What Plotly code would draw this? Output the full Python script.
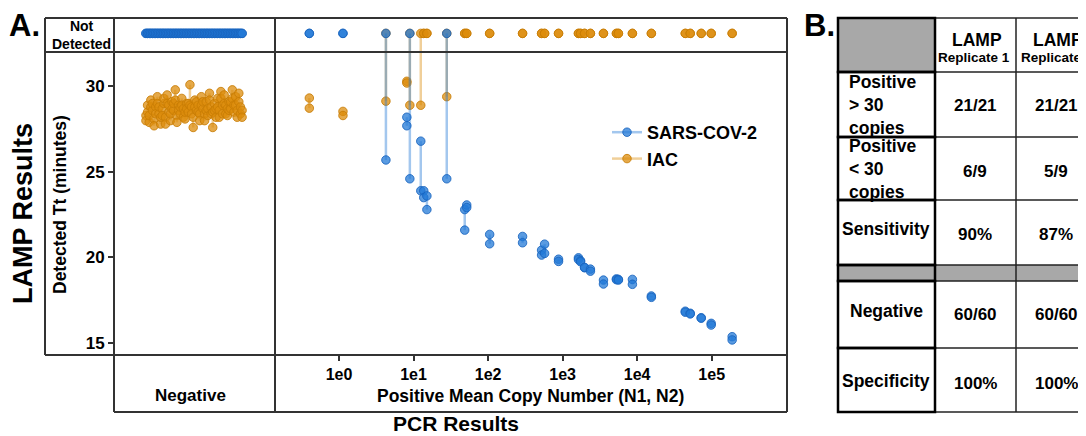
import plotly.graph_objects as go

W, H = 1086, 436
OFF = 8  # page body margin in the browser
ND_Y = 33.1  # where "Not Detected" replicates sit

# ---- negative samples: IAC Tt per replicate (SARS-CoV-2 never detected)
neg_sample = list(range(1, 61))
neg_iac_rep1 = [28.3, 28.9, 27.9, 29.2, 28.6, 28.1, 28.8, 29.4, 28.4, 27.8,
                28.7, 29.0, 28.2, 29.5, 28.5, 28.0, 29.1, 28.6, 29.8, 28.3,
                28.9, 28.4, 29.3, 28.7, 28.1, 29.0, 28.5, 30.1, 28.8, 28.2,
                29.2, 28.6, 28.9, 28.4, 29.4, 28.7, 28.0, 29.1, 28.3, 29.6,
                28.8, 28.5, 29.0, 28.2, 29.3, 28.6, 29.7, 28.4, 29.5, 28.9,
                28.3, 29.1, 28.7, 29.8, 28.5, 29.4, 28.2, 29.6, 28.8, 28.6]
neg_iac_rep2 = [28.0, 28.5, 28.3, 28.8, 29.0, 27.7, 28.4, 29.0, 28.8, 28.2,
                28.3, 29.3, 27.8, 29.0, 28.9, 28.4, 28.7, 29.0, 29.2, 27.9,
                28.6, 28.8, 28.9, 28.2, 28.5, 28.7, 29.0, 28.9, 28.4, 27.6,
                28.8, 29.1, 28.5, 28.0, 28.9, 29.1, 28.4, 28.6, 28.7, 29.2,
                28.4, 27.6, 28.6, 28.7, 28.8, 28.2, 29.3, 28.9, 29.0, 28.4,
                28.7, 28.6, 29.1, 29.3, 28.9, 28.9, 28.6, 29.1, 28.4, 28.2]

# ---- positive samples: mean copy number (N1, N2), None = not detected
pos_copies = [0.40, 1.13, 4.26, 8.13, 8.92, 12.5, 13.7, 15.1, 27.9, 48.6,
              51.7, 105, 290, 522, 573, 881, 1630, 1740, 1970, 2360,
              3530, 5270, 5600, 8630, 15500, 44200, 51500, 72300, 98400, 188000]
sars_rep1 = [None, None, 25.7, 28.2, 24.6, 26.8, 23.9, 23.6, 24.6, 22.8,
             23.07, 21.35, 21.23, 20.43, 20.78, 19.9, 19.98, 19.81, 19.4, 19.32,
             18.68, 18.75, 18.72, 18.72, 17.75, 16.86, 16.74, 16.48, 16.15, 15.37]
sars_rep2 = [None, None, None, 27.7, None, 23.9, 23.5, 22.8, None, 21.6,
             22.92, 20.8, 20.86, 20.14, 20.24, 19.77, 19.88, 19.75, 19.42, 19.2,
             18.45, 18.7, 18.68, 18.43, 17.67, 16.8, 16.7, 16.45, 16.05, 15.18]
iac_rep1 = [29.32, 28.54, 29.14, 30.3, 28.9, 28.9, None, None, 29.4] + [None] * 21
iac_rep2 = [28.73, 28.3, None, 30.2, None, None, None, None, None] + [None] * 21

# ---- table B
tbl_rows = ["Positive<br>> 30<br>copies", "Positive<br>< 30<br>copies", "Sensitivity",
            "Negative", "Specificity"]
tbl_rep1 = ["21/21", "6/9", "90%", "60/60", "100%"]
tbl_rep2 = ["21/21", "5/9", "87%", "60/60", "100%"]

BLUE_M = "rgba(35,122,215,0.75)"
BLUE_O = "rgba(25,100,190,0.85)"
BLUE_L = "rgba(35,122,215,0.42)"
ORG_M = "rgba(220,140,12,0.75)"
ORG_O = "rgba(200,125,5,0.85)"
ORG_L = "rgba(220,140,12,0.42)"
FONT = "Liberation Sans, Arial, sans-serif"

FW, FH = W - OFF, H - OFF


def pairs(xs, r1, r2):
    X, Y = [], []
    for x, a, b in zip(xs, r1, r2):
        X += [x, x, None]
        Y += [ND_Y if a is None else a, ND_Y if b is None else b, None]
    return X, Y


def px(x):
    return (x - OFF) / FW


def py(y):
    return 1 - (y - OFF) / FH


fig = go.Figure()

def add_pairs(xs, r1, r2, xa, ya, mc, oc, lc, name, show, rank):
    X, Y = pairs(xs, r1, r2)
    fig.add_trace(go.Scatter(
        x=X, y=Y, xaxis=xa, yaxis=ya, mode="lines+markers", name="<b>" + name + "</b>",
        legendgroup=name, showlegend=show, legendrank=rank,
        line=dict(color=lc, width=2.5),
        marker=dict(size=8.5, color=mc, line=dict(color=oc, width=1)),
        hoverinfo="skip"))

add_pairs(neg_sample, neg_iac_rep1, neg_iac_rep2, "x", "y", ORG_M, ORG_O, ORG_L, "IAC", False, 2)
add_pairs(pos_copies, iac_rep1, iac_rep2, "x2", "y2", ORG_M, ORG_O, ORG_L, "IAC", True, 2)
add_pairs(neg_sample, [None] * 60, [None] * 60, "x", "y", BLUE_M, BLUE_O, BLUE_L, "SARS-COV-2", False, 1)
add_pairs(pos_copies, sars_rep1, sars_rep2, "x2", "y2", BLUE_M, BLUE_O, BLUE_L, "SARS-COV-2", True, 1)

ydom = [py(355), py(18)]
yrng = [14.3, 34.0]
fig.update_layout(
    width=FW, height=FH, margin=dict(l=0, r=0, t=0, b=0),
    paper_bgcolor="white", plot_bgcolor="white",
    font=dict(family=FONT, color="black"),
    xaxis=dict(domain=[px(114), px(275)], range=[-18.6, 80.2], anchor="y",
               showticklabels=False, showgrid=False, zeroline=False, ticks=""),
    yaxis=dict(domain=ydom, range=yrng, anchor="x", tickvals=[15, 20, 25, 30],
               ticktext=["<b>15</b>", "<b>20</b>", "<b>25</b>", "<b>30</b>"],
               ticks="outside", ticklen=5, tickwidth=1.5, tickcolor="#333",
               tickfont=dict(size=17), showgrid=False, zeroline=False),
    xaxis2=dict(domain=[px(275), px(787)], type="log", range=[-0.8586, 6.01], anchor="y2",
                tickvals=[1, 10, 100, 1000, 1e4, 1e5],
                ticktext=["<b>1e0</b>", "<b>1e1</b>", "<b>1e2</b>", "<b>1e3</b>", "<b>1e4</b>", "<b>1e5</b>"],
                ticks="outside", ticklen=5, tickwidth=1.5, tickcolor="#333",
                tickfont=dict(size=16), showgrid=False, zeroline=False),
    yaxis2=dict(domain=ydom, range=yrng, anchor="x2", showticklabels=False,
                showgrid=False, zeroline=False, ticks=""),
    legend=dict(x=px(607), y=py(114), xanchor="left", yanchor="top",
                font=dict(size=18), bgcolor="rgba(0,0,0,0)", itemwidth=30,
                tracegroupgap=0),
    showlegend=True,
)

shapes = []

def line(x0, y0, x1, y1, w=2, c="#333"):
    shapes.append(dict(type="line", xref="paper", yref="paper",
                       x0=px(x0), y0=py(y0), x1=px(x1), y1=py(y1),
                       line=dict(color=c, width=w)))

def rect(x0, y0, x1, y1, fill=None, w=0, c="black"):
    shapes.append(dict(type="rect", xref="paper", yref="paper",
                       x0=px(x0), y0=py(y0), x1=px(x1), y1=py(y1),
                       fillcolor=fill or "rgba(0,0,0,0)",
                       line=dict(color=c, width=w), layer="below" if fill else "above"))

# panel A frame
line(45, 18, 787, 18)
line(45, 52, 787, 52)
line(45, 355, 787, 355)
line(114, 412, 787, 412)
line(45, 18, 45, 355)
line(114, 18, 114, 412)
line(275, 18, 275, 412)
line(787, 18, 787, 412)

# table B
cols = [838, 935, 1016, 1097]
rows = [18, 72, 137, 200, 265, 281, 348, 412]
rect(838, 18, 935, 72, fill="#a8a8a8")
rect(838, 265, 1097, 281, fill="#a8a8a8")
for r in rows:
    line(838, r, 1097, r, w=1.5, c="#222")
for c in cols[1:]:
    line(c, 18, c, 412, w=1.5, c="#222")
for i in range(len(rows) - 1):
    rect(838, rows[i], 935, rows[i + 1], w=2.5, c="black")

fig.update_layout(shapes=shapes)

ann = []

def text(x, y, s, size, xanchor="center", angle=0, align="center"):
    ann.append(dict(x=px(x), y=py(y), xref="paper", yref="paper", text=s,
                    showarrow=False, xanchor=xanchor, yanchor="middle",
                    textangle=angle, align=align, font=dict(size=size, family=FONT, color="black")))

text(24, 26, "<b>A.</b>", 31)
text(819, 26, "<b>B.</b>", 31)
text(81, 35, "<b>Not<br>Detected</b>", 14)
text(60, 205, "<b>Detected Tt (minutes)</b>", 17.5, angle=-90)
text(23, 214, "<b>LAMP Results</b>", 27, angle=-90)
text(190, 395, "<b>Negative</b>", 17)
text(530, 396, "<b>Positive Mean Copy Number (N1, N2)</b>", 17.5)
text(456, 423, "<b>PCR Results</b>", 21)

text(977, 40, "<b>LAMP</b>", 17.5)
text(974, 58, "<b>Replicate 1</b>", 13.5)
text(1058, 40, "<b>LAMP</b>", 17.5)
text(1056, 58, "<b>Replicate 2</b>", 13.5)

label_x = [847, 847, 840, 886, 840]
label_anchor = ["left", "left", "left", "center", "left"]
label_y = [105, 169, 229, 311, 381]
val_y = [106, 172, 234, 314, 383]
for i in range(len(tbl_rows)):
    text(label_x[i], label_y[i], "<b>" + tbl_rows[i] + "</b>", 17.5,
         xanchor=label_anchor[i], align="left")
    text(975, val_y[i], "<b>" + tbl_rep1[i] + "</b>", 17)
    text(1056, val_y[i], "<b>" + tbl_rep2[i] + "</b>", 17)

fig.update_layout(annotations=ann)

fig.write_html("out.html")
